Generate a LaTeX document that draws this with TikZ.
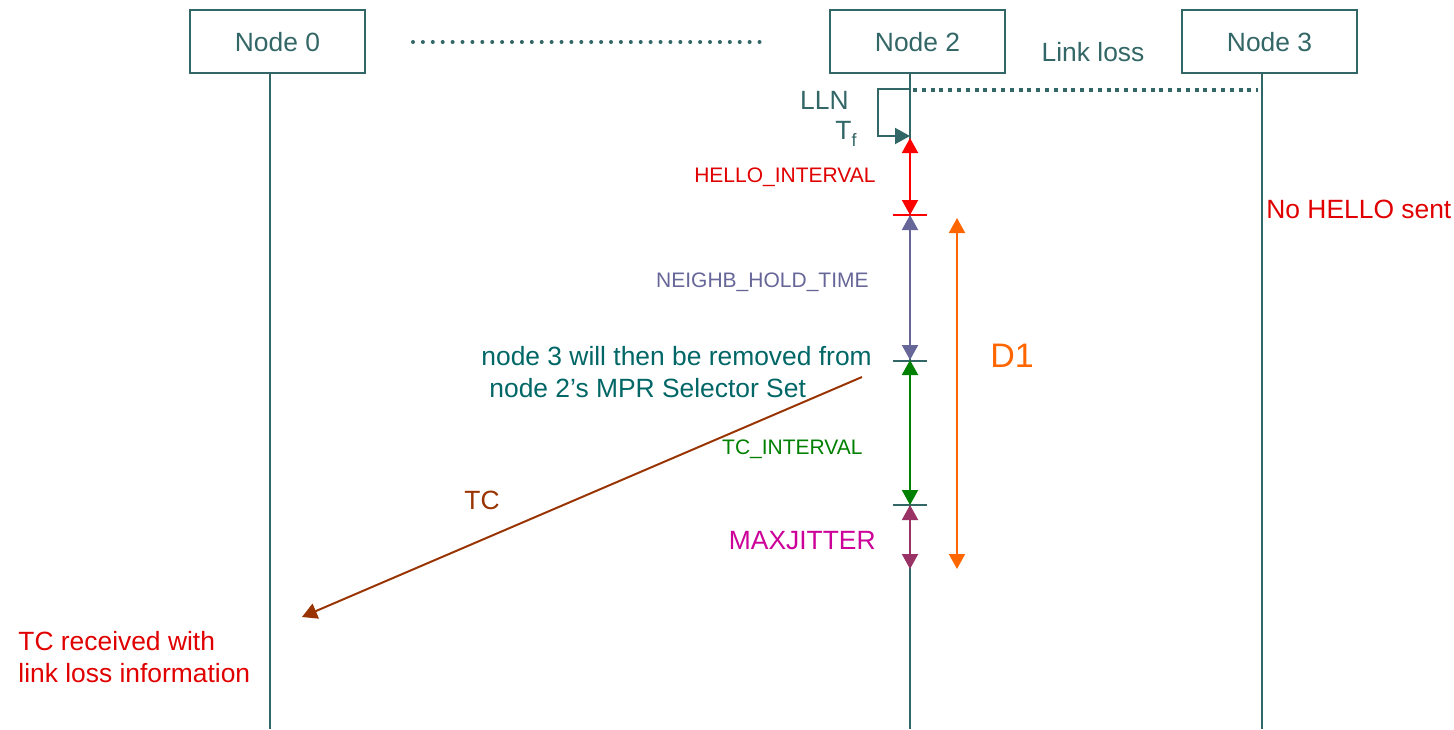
\documentclass[tikz,border=0pt]{standalone}
\usepackage{fontspec}
\setmainfont{Liberation Sans}
\usetikzlibrary{arrows.meta}
\definecolor{teal2}{RGB}{51,102,102}
\definecolor{tealT}{RGB}{0,102,102}
\definecolor{redA}{RGB}{255,0,0}
\definecolor{redT}{RGB}{224,0,0}
\definecolor{purp}{RGB}{102,102,153}
\definecolor{grn}{RGB}{0,128,0}
\definecolor{maroon2}{RGB}{153,51,102}
\definecolor{orng}{RGB}{255,102,0}
\definecolor{brwn}{RGB}{153,51,0}
\definecolor{mag}{RGB}{204,0,153}
\tikzset{
  nodebox/.style={draw=teal2, line width=1pt, minimum width=87.5pt, minimum height=31.5pt, inner sep=0pt},
  lifeline/.style={draw=teal2, line width=1pt},
  tip/.style={-{Triangle[length=7.5pt,width=8pt]}},
  dtip/.style={{Triangle[length=7.5pt,width=8pt]}-{Triangle[length=7.5pt,width=8pt]}},
  tick/.style={line width=0.8pt},
  lbl/.style={inner sep=0pt, font=\fontsize{13.2}{15.8}\selectfont},
  slbl/.style={inner sep=0pt, font=\fontsize{10.5}{12.6}\selectfont},
}
\begin{document}
\begin{tikzpicture}[x=0.5pt,y=-0.5pt]
\useasboundingbox (0,0) rectangle (1454,729);
% boxes
\node[nodebox] (n0) at (277.5,41.5) {};
\node[nodebox] (n2) at (917.5,41.5) {};
\node[nodebox] (n3) at (1269.5,41.5) {};
\node[lbl, text=teal2] (t0) at (277.5,42) {Node 0};
\node[lbl, text=teal2] (t2) at (917.5,42) {Node 2};
\node[lbl, text=teal2] (t3) at (1269.5,42) {Node 3};
% lifelines
\coordinate (l0a) at (270,73); \coordinate (l0b) at (270,729);
\coordinate (l2a) at (910,73); \coordinate (l2b) at (910,729);
\coordinate (l3a) at (1262,73); \coordinate (l3b) at (1262,729);
\draw[lifeline] (l0a) -- (l0b);
\draw[lifeline] (l2a) -- (l2b);
\draw[lifeline] (l3a) -- (l3b);
% dotted separator
\coordinate (d1a) at (413,42); \coordinate (d1b) at (760,42);
\draw[teal2, line width=2pt, line cap=round, dash pattern=on 0pt off 4.95pt] (d1a) -- (d1b);
% link loss
\coordinate (lla) at (913,90); \coordinate (llb) at (1258,90);
\draw[teal2, line width=1.6pt, dash pattern=on 2pt off 2.4pt] (lla) -- (llb);
\node[lbl, text=teal2] (linkloss) at (1093,52) {Link loss};
% LLN loop
\coordinate (lp0) at (910,89); \coordinate (lp1) at (878,89); \coordinate (lp2) at (878,136); \coordinate (lp3) at (910,136);
\draw[teal2, line width=1pt, tip] (lp0) -- (lp1) -- (lp2) -- (lp3);
\node[lbl, text=teal2, anchor=east] (lln) at (849,100) {LLN};
\node[lbl, text=teal2, anchor=east] (tf) at (857,134) {T\raisebox{-0.45ex}{\fontsize{9}{10}\selectfont f}};
% time points
\coordinate (p1) at (910,138);
\coordinate (p2) at (910,215);
\coordinate (p3) at (910,360);
\coordinate (p4) at (910,505);
\coordinate (p5) at (910,569);
% ticks
\coordinate (k2a) at (893,215); \coordinate (k2b) at (927,215);
\coordinate (k3a) at (893,361); \coordinate (k3b) at (927,361);
\coordinate (k4a) at (893,505); \coordinate (k4b) at (927,505);
\draw[redA, tick] (k2a) -- (k2b);
\draw[teal2, tick] (k3a) -- (k3b);
\draw[teal2, tick] (k4a) -- (k4b);
% interval arrows
\draw[redA, line width=1pt, dtip] (p1) -- (p2);
\draw[purp, line width=1pt, dtip] (p2) -- (p3);
\draw[grn, line width=1pt, dtip] (p3) -- (p4);
\draw[maroon2, line width=1pt, dtip] (p4) -- (p5);
\node[slbl, text=redT, anchor=east] (hi) at (876,177) {HELLO\_INTERVAL};
\node[slbl, text=purp, anchor=east] (nh) at (869,282) {NEIGHB\_HOLD\_TIME};
\node[slbl, text=grn, anchor=east] (tci) at (863,449) {TC\_INTERVAL};
\node[lbl, text=mag, anchor=east] (mj) at (876,541) {MAXJITTER};
% D1
\coordinate (o1) at (957,218); \coordinate (o2) at (957,569);
\draw[orng, line width=1pt, dtip] (o1) -- (o2);
\node[inner sep=0pt, text=orng, font=\fontsize{17}{20}\selectfont] (d1) at (1012,356) {D1};
% removal text
\node[lbl, text=tealT, anchor=west] (rm1) at (481,356) {node 3 will then be removed from};
\node[lbl, text=tealT, anchor=west] (rm2) at (489,388) {node 2’s MPR Selector Set};
% TC message
\coordinate (tca) at (862,377); \coordinate (tcb) at (302,617);
\draw[brwn, line width=1pt, tip] (tca) -- (tcb);
\node[lbl, text=brwn] (tc) at (482,500) {TC};
% red notes
\node[lbl, text=redT, anchor=west] (nohello) at (1266,209) {No HELLO sent};
\node[lbl, text=redT, anchor=west] (tcr1) at (18,641) {TC received with};
\node[lbl, text=redT, anchor=west] (tcr2) at (18,673) {link loss information};
\end{tikzpicture}
\end{document}
